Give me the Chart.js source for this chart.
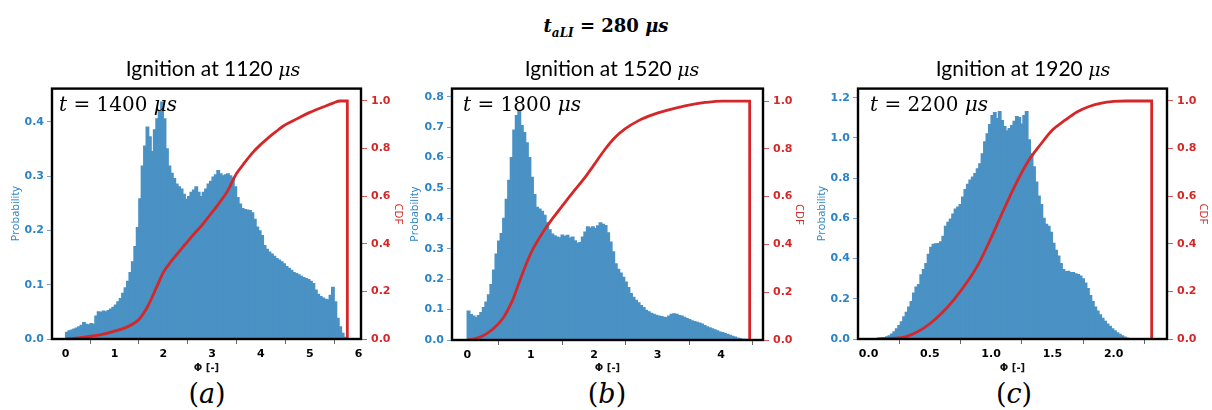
<!DOCTYPE html>
<html>
<head>
<meta charset="utf-8">
<script src="https://cdn.jsdelivr.net/npm/chart.js@4.4.1/dist/chart.umd.min.js"></script>
<style>
  html, body { margin:0; padding:0; background:#fff; width:1212px; height:410px; overflow:hidden; position:relative; }
  .pane { position:absolute; }
  .txt { position:absolute; white-space:nowrap; line-height:1; color:#000; }
  .main { font-family:"DejaVu Serif", serif; font-weight:bold; font-size:18px; }
  .sub { font-family:Lato, "Open Sans", sans-serif; font-size:21px; }
  .sub i { font-family:"DejaVu Serif", serif; font-size:19px; }
  .tlab { font-family:"DejaVu Serif", serif; font-size:20px; }
  .plab { font-family:"DejaVu Serif", serif; font-size:27px; }
</style>
</head>
<body>
<div class="pane" style="left:0px;top:78px;width:412px;height:300px;"><canvas id="cA" width="412" height="300"></canvas></div>
<div class="pane" style="left:400px;top:78px;width:412px;height:300px;"><canvas id="cB" width="412" height="300"></canvas></div>
<div class="pane" style="left:806px;top:78px;width:406px;height:300px;"><canvas id="cC" width="406" height="300"></canvas></div>

<div class="txt main" style="left:0;width:1212px;text-align:center;top:17px;"><i>t</i><sub style="font-size:12px;"><i>aLI</i></sub> = 280 <i>μs</i></div>

<div class="txt sub" style="left:113px;width:200px;text-align:center;top:57px;">Ignition at 1120 <i>μs</i></div>
<div class="txt sub" style="left:512px;width:200px;text-align:center;top:57px;">Ignition at 1520 <i>μs</i></div>
<div class="txt sub" style="left:923px;width:200px;text-align:center;top:57px;">Ignition at 1920 <i>μs</i></div>

<div class="txt tlab" style="left:59px;top:94px;"><i>t</i> = 1400 <i>μs</i></div>
<div class="txt tlab" style="left:463px;top:94px;"><i>t</i> = 1800 <i>μs</i></div>
<div class="txt tlab" style="left:870px;top:94px;"><i>t</i> = 2200 <i>μs</i></div>

<div class="txt plab" style="left:157px;width:100px;text-align:center;top:380px;">(<i>a</i>)</div>
<div class="txt plab" style="left:557px;width:100px;text-align:center;top:380px;">(<i>b</i>)</div>
<div class="txt plab" style="left:964px;width:100px;text-align:center;top:380px;">(<i>c</i>)</div>

<script>
// ---------- DATA ----------
// Panel (a): histogram bins (first bin centre, bin width) and probability density
const phiStartA = 0.025, binWidthA = 0.05;
const probA = [0.012,0.015,0.016,0.018,0.020,0.022,0.025,0.030,0.027,0.026,
  0.028,0.027,0.042,0.050,0.049,0.051,0.050,0.052,0.055,0.058,
  0.062,0.068,0.074,0.084,0.094,0.106,0.122,0.142,0.170,0.205,
  0.258,0.318,0.355,0.390,0.372,0.345,0.385,0.405,0.420,0.436,
  0.405,0.350,0.318,0.305,0.295,0.285,0.280,0.276,0.266,0.257,
  0.262,0.270,0.274,0.280,0.270,0.262,0.270,0.276,0.285,0.290,
  0.298,0.302,0.310,0.304,0.300,0.302,0.304,0.300,0.296,0.280,
  0.260,0.248,0.240,0.238,0.237,0.236,0.232,0.220,0.206,0.199,
  0.190,0.172,0.165,0.160,0.156,0.152,0.148,0.145,0.142,0.138,
  0.133,0.130,0.126,0.122,0.120,0.118,0.115,0.113,0.111,0.109,
  0.106,0.102,0.090,0.082,0.078,0.075,0.073,0.072,0.080,0.095,
  0.068,0.038,0.022,0.010,0.003];
const cdfPhiA = [0.0,0.30,0.70,1.04,1.25,1.39,1.50,1.59,1.70,1.80,1.90,2.00,2.13,2.27,2.45,2.61,2.80,2.96,3.14,3.30,3.50,3.67,3.84,4.00,4.12,4.30,4.46,4.64,4.80,4.98,5.14,5.30,5.48,5.62,5.77,5.77];
const cdfA    = [0.0,0.006,0.017,0.035,0.050,0.065,0.082,0.106,0.145,0.189,0.235,0.280,0.318,0.354,0.398,0.437,0.480,0.522,0.570,0.616,0.695,0.742,0.785,0.818,0.840,0.870,0.895,0.915,0.932,0.950,0.964,0.977,0.991,1.0,1.0,0.0];

// Panel (b)
const phiStartB = 0.02, binWidthB = 0.04;
const probB = [0.095,0.083,0.078,0.073,0.080,0.090,0.106,0.124,0.148,0.182,
  0.230,0.282,0.325,0.350,0.400,0.462,0.525,0.600,0.690,0.738,
  0.755,0.705,0.682,0.648,0.600,0.535,0.478,0.436,0.430,0.423,
  0.410,0.385,0.362,0.348,0.342,0.338,0.336,0.345,0.340,0.344,
  0.335,0.338,0.326,0.318,0.320,0.338,0.355,0.372,0.368,0.372,
  0.366,0.375,0.385,0.380,0.376,0.352,0.322,0.290,0.250,0.232,
  0.220,0.206,0.190,0.172,0.152,0.140,0.130,0.122,0.113,0.106,
  0.097,0.092,0.087,0.084,0.081,0.078,0.077,0.074,0.073,0.078,
  0.084,0.086,0.084,0.080,0.078,0.074,0.070,0.067,0.063,0.060,
  0.058,0.055,0.052,0.047,0.043,0.040,0.036,0.033,0.030,0.026,
  0.024,0.021,0.018,0.015,0.012,0.009,0.006,0.004,0.002,0.001];
const cdfPhiB = [0.0,0.10,0.25,0.40,0.56,0.72,0.80,0.88,0.96,1.04,1.12,1.20,1.36,1.52,1.68,1.84,2.00,2.16,2.32,2.48,2.70,2.96,3.22,3.49,3.75,4.01,4.45,4.45];
const cdfB    = [0.0,0.004,0.018,0.045,0.090,0.170,0.228,0.285,0.338,0.383,0.420,0.454,0.514,0.569,0.623,0.675,0.734,0.794,0.845,0.882,0.918,0.946,0.966,0.983,0.994,1.0,1.0,0.0];

// Panel (c)
const phiStartC = 0.09, binWidthC = 0.02;
const probC = [0.003,0.005,0.007,0.010,0.015,0.024,0.035,0.050,0.066,0.085,
  0.110,0.132,0.158,0.185,0.228,0.258,0.270,0.318,0.345,0.375,
  0.420,0.455,0.470,0.472,0.474,0.482,0.510,0.560,0.580,0.596,
  0.620,0.645,0.655,0.668,0.705,0.742,0.768,0.790,0.805,0.822,
  0.845,0.870,0.920,0.980,1.020,1.065,1.110,1.125,1.095,1.130,
  1.085,1.055,1.035,1.045,1.060,1.082,1.105,1.100,1.068,1.110,
  1.130,0.990,0.920,0.855,0.780,0.710,0.668,0.600,0.570,0.560,
  0.530,0.475,0.440,0.412,0.375,0.345,0.334,0.336,0.330,0.330,
  0.324,0.320,0.312,0.298,0.278,0.250,0.215,0.185,0.158,0.138,
  0.120,0.102,0.087,0.074,0.062,0.050,0.040,0.030,0.023,0.015,
  0.009,0.004];
const cdfPhiC = [0.07,0.20,0.30,0.40,0.50,0.60,0.70,0.80,0.90,1.00,1.10,1.20,1.30,1.40,1.50,1.60,1.70,1.80,1.90,2.00,2.10,2.31,2.31];
const cdfC    = [0.0,0.003,0.009,0.030,0.064,0.110,0.168,0.236,0.318,0.425,0.540,0.650,0.745,0.815,0.878,0.918,0.954,0.977,0.991,0.998,1.0,1.0,0.0];

// Tick labels
const xTicksA = [0,1,2,3,4,5,6];
const xTicksB = [0,1,2,3,4];
const xTicksC = [0.0,0.5,1.0,1.5,2.0];
const yTicksA = [0.0,0.1,0.2,0.3,0.4];
const yTicksB = [0.0,0.1,0.2,0.3,0.4,0.5,0.6,0.7,0.8];
const yTicksC = [0.0,0.2,0.4,0.6,0.8,1.0,1.2];
const cdfTicks = [0.0,0.2,0.4,0.6,0.8,1.0];

// ---------- STYLE ----------
const BAR = '#4a91c4';
const BLUE = '#2a84c6';
const BLUETICK = '#6fa3cc';
const RED = '#d62728';
const REDTICK = '#e05a5c';
const TICKFONT = {family:'"DejaVu Sans", sans-serif', size:11, weight:'bold'};
const LABFONT = {family:'"Open Sans", sans-serif', size:11};

const framePlugin = {
  id:'frame',
  afterDraw(chart){
    const {ctx, chartArea:a} = chart;
    ctx.save();
    ctx.strokeStyle = '#000';
    ctx.lineWidth = 2.4;
    ctx.strokeRect(a.left, a.top, a.right - a.left, a.bottom - a.top);
    ctx.restore();
  }
};

function bins(start, w, vals){
  return vals.map((v,i)=>({x: +(start + i*w).toFixed(4), y: v}));
}
function pts(xs, ys){ return xs.map((x,i)=>({x:x, y:ys[i]})); }
function setTicks(arr){ return (s)=>{ s.ticks = arr.map(v=>({value:v})); }; }

function makeChart(id, p){
  new Chart(document.getElementById(id), {
    type:'bar',
    data:{ datasets:[
      { type:'line', data:pts(p.cx, p.cy), yAxisID:'y2', borderColor:RED, borderWidth:2.8,
        pointRadius:0, cubicInterpolationMode:'monotone', fill:false, order:0 },
      { type:'bar', data:bins(p.start, p.w, p.prob), yAxisID:'y', backgroundColor:BAR,
        borderWidth:0, inflateAmount:0.7, barPercentage:1.0, categoryPercentage:1.0, order:1 }
    ]},
    options:{
      responsive:false, animation:false, devicePixelRatio:1,
      layout:{ padding:{ top:6, left:0, right:0, bottom:0 } },
      plugins:{ legend:{display:false}, tooltip:{enabled:false} },
      scales:{
        x:{ type:'linear', position:'bottom', min:p.xmin, max:p.xmax, offset:false,
            afterBuildTicks:setTicks(p.xt),
            afterFit:(s)=>{ s.height = p.xh; },
            ticks:{ color:'#000', font:TICKFONT, padding:4, maxRotation:0, autoSkip:false,
                    callback:(v)=> p.xdec ? Number(v).toFixed(1) : String(v) },
            grid:{ display:true, drawOnChartArea:false, drawTicks:true, tickLength:5, color:'#666', lineWidth:1 },
            border:{ display:false },
            title:{ display:true, text:'Φ [-]', color:'#111', font:{family:'"DejaVu Sans", sans-serif', size:10, weight:'bold'}, padding:{top:0,bottom:4} } },
        y:{ type:'linear', position:'left', min:0, max:p.ymax,
            afterBuildTicks:setTicks(p.yt),
            afterFit:(s)=>{ s.width = 52; },
            ticks:{ color:BLUE, font:TICKFONT, padding:3, callback:(v)=>Number(v).toFixed(1) },
            grid:{ display:true, drawOnChartArea:false, drawTicks:true, tickLength:5, color:BLUETICK, lineWidth:1 },
            border:{ display:false },
            title:{ display:true, text:'Probability', color:BLUE, font:LABFONT, padding:{top:p.ly, bottom:0} } },
        y2:{ type:'linear', position:'right', min:0, max:1.052,
            afterBuildTicks:setTicks(cdfTicks),
            afterFit:(s)=>{ s.width = p.rw; },
            ticks:{ color:RED, font:TICKFONT, padding:4, callback:(v)=>Number(v).toFixed(1) },
            grid:{ display:true, drawOnChartArea:false, drawTicks:true, tickLength:6, color:REDTICK, lineWidth:1 },
            border:{ display:false },
            title:{ display:true, text:'CDF', color:RED, font:LABFONT, padding:{top:p.ry, bottom:0} } }
      }
    },
    plugins:[framePlugin]
  });
}

makeChart('cA', {start:phiStartA, w:binWidthA, prob:probA, cx:cdfPhiA, cy:cdfA,
  xmin:-0.28, xmax:6.05, ymax:0.461, xt:xTicksA, yt:yTicksA, xdec:false, xh:39, rw:51, ly:9.4, ry:7.4});
makeChart('cB', {start:phiStartB, w:binWidthB, prob:probB, cx:cdfPhiB, cy:cdfB,
  xmin:-0.24, xmax:4.66, ymax:0.827, xt:xTicksB, yt:yTicksB, xdec:false, xh:38, rw:49, ly:8.4, ry:6.4});
makeChart('cC', {start:phiStartC, w:binWidthC, prob:probC, cx:cdfPhiC, cy:cdfC,
  xmin:-0.086, xmax:2.435, ymax:1.245, xt:xTicksC, yt:yTicksC, xdec:true, xh:39, rw:45, ly:9.0, ry:2.4});
</script>
</body>
</html>
